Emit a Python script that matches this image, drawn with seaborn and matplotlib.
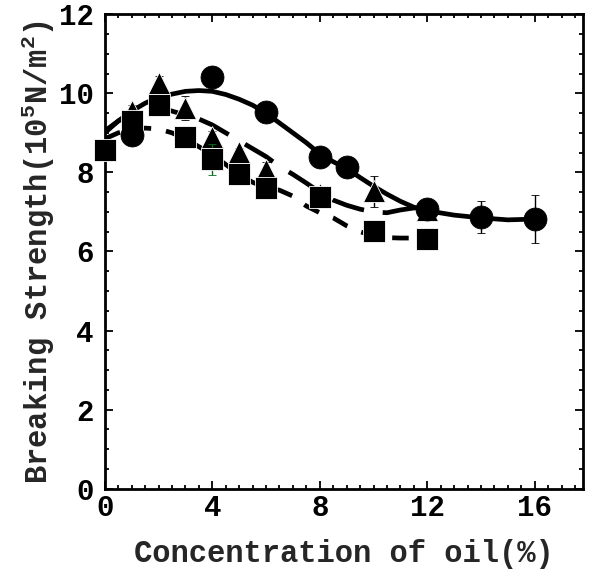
import matplotlib
matplotlib.use("Agg")
import matplotlib.pyplot as plt
import seaborn as sns

sns.set_theme(style="ticks")
plt.rcParams['font.family'] = ['Liberation Mono', 'DejaVu Sans']
plt.rcParams['font.weight'] = 'bold'
plt.rcParams['mathtext.fontset'] = 'custom'
plt.rcParams['mathtext.rm'] = 'Liberation Mono:bold'
plt.rcParams['mathtext.it'] = 'Liberation Mono:bold'
plt.rcParams['mathtext.bf'] = 'Liberation Mono:bold'

# measured points
circle_x = [1, 4, 6, 8, 9, 12, 14, 16]
circle_y = [8.95, 10.4, 9.52, 8.4, 8.14, 7.07, 6.87, 6.82]
circle_err = [0.15, 0.1, 0.1, 0.1, 0.1, 0.2, 0.4, 0.6]

tri_x = [1, 2, 3, 4, 5, 6, 8, 10, 12]
tri_y = [9.55, 10.25, 9.62, 8.9, 8.52, 8.07, 7.45, 7.52, 7.05]
tri_err = [0.15, 0.2, 0.3, 0.15, 0.1, 0.2, 0.1, 0.4, 0.15]

sq_x = [0, 1, 2, 3, 4, 5, 6, 8, 10, 12]
sq_y = [8.56, 9.3, 9.71, 8.89, 8.33, 7.97, 7.6, 7.39, 6.52, 6.31]
sq_err = [0.1, 0.1, 0.15, 0.1, 0.4, 0.1, 0.15, 0.1, 0.15, 0.1]

# fitted curves
fit_x = [0, 0.5, 1, 1.5, 2, 2.5, 3, 3.5, 4, 4.5, 5, 5.5, 6, 6.5, 7, 7.5,
         8, 8.5, 9, 9.5, 10, 10.5, 11, 11.5, 12]
fit_circle = [9.05, 9.3, 9.55, 9.75, 9.9, 9.98, 10.05, 10.07, 10.05, 9.97,
              9.85, 9.7, 9.5, 9.25, 9.0, 8.75, 8.47, 8.27, 8.1, 7.87, 7.65,
              7.45, 7.27, 7.12, 7.03]
fit_circle_tail_x = [13, 14, 15, 16]
fit_circle_tail = [6.92, 6.85, 6.8, 6.82]
fit_tri = [9.0, 9.3, 9.5, 9.62, 9.65, 9.55, 9.45, 9.35, 9.2, 9.0, 8.8, 8.6,
           8.4, 8.15, 7.95, 7.73, 7.5, 7.3, 7.17, 7.07, 7.0, 6.98, 7.05,
           7.1, 7.1]
fit_sq = [8.85, 9.0, 9.1, 9.12, 9.1, 9.0, 8.85, 8.65, 8.45, 8.2, 7.95, 7.75,
          7.62, 7.55, 7.4, 7.15, 6.98, 6.85, 6.65, 6.5, 6.4, 6.35, 6.34,
          6.34, 6.34]

fig, ax = plt.subplots(figsize=(5.89, 5.69), dpi=100)
fig.subplots_adjust(left=0.178, right=0.99, top=0.975, bottom=0.141)

lw = 3.4
sns.lineplot(x=fit_x + fit_circle_tail_x, y=fit_circle + fit_circle_tail,
             ax=ax, color='black', linewidth=lw, sort=False, zorder=2)
ax.plot(fit_x, fit_tri, color='black', linewidth=lw, dashes=(7, 4), zorder=2)
ax.plot(fit_x, fit_sq, color='black', linewidth=lw, dashes=(3.5, 3.2), zorder=2)

ms = 16.5
for xs, ys, es, mk, ec, z in [(tri_x, tri_y, tri_err, '^', 'black', 3),
                              (sq_x, sq_y, sq_err, 's', '#0a6e1e', 4),
                              (circle_x, circle_y, circle_err, 'o', 'black', 5)]:
    cont = ax.errorbar(xs, ys, yerr=es, fmt=mk, color='black', ms=ms,
                       mec='white' if mk != 'o' else 'black', mew=0.6,
                       ecolor=ec, elinewidth=1, capsize=3, zorder=z)
    cont[0].set_clip_on(False)

ax.set_xlim(0, 17.8)
ax.set_ylim(0, 12)
ax.set_xticks([0, 4, 8, 12, 16])
ax.set_yticks([0, 2, 4, 6, 8, 10, 12])
ax.set_xticks([i * 0.5 for i in range(36)], minor=True)
ax.set_yticks([i * 0.5 for i in range(25)], minor=True)
ax.tick_params(which='both', direction='in', top=True, right=True,
               colors='black', width=1.3)
ax.tick_params(which='major', length=6, labelsize=21)
ax.tick_params(axis='x', which='major', pad=4)
ax.tick_params(axis='y', which='major', pad=8)
ax.tick_params(which='minor', length=3)
for lab in ax.get_xticklabels() + ax.get_yticklabels():
    lab.set_fontweight('bold')
for sp in ax.spines.values():
    sp.set_linewidth(2)
    sp.set_color('black')

ax.set_xlabel('Concentration of oil(%)', fontsize=22, fontweight='bold',
              labelpad=12)
ax.set_ylabel('Breaking Strength(10$^{5}$N/m$^{2}$)', fontsize=22,
              fontweight='bold', labelpad=1)

fig.savefig('out.png', dpi=100)
